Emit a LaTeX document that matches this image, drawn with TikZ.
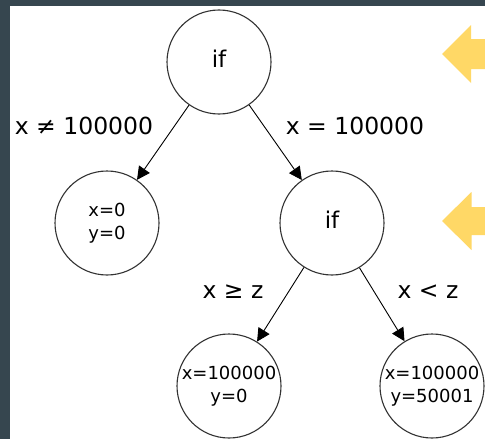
\documentclass[tikz,border=0pt]{standalone}
\usepackage{fontspec}
\setmainfont{DejaVu Sans}
\usetikzlibrary{arrows.meta}
\definecolor{slateband}{RGB}{54,70,79}
\definecolor{hintyellow}{RGB}{255,216,102}
\begin{document}
\begin{tikzpicture}[x=1pt,y=-1pt,
  decision/.style={circle,draw=black!80,line width=1.1pt,minimum size=104pt,
    inner sep=0pt,text depth=7pt,font=\fontsize{23}{27}\selectfont},
  leaf/.style={circle,draw=black!80,line width=1.1pt,minimum size=104pt,
    inner sep=0pt,align=center,font=\fontsize{18}{23}\selectfont},
  branch/.style={draw=black,line width=0.9pt,-{Triangle[length=13pt,width=13pt]}},
  cond/.style={font=\fontsize{23.5}{28}\selectfont,inner sep=0pt,anchor=base},
  pointer/.style={fill=hintyellow,draw=none}]
  \useasboundingbox (0,0) rectangle (485,439);
  \fill[white] (0,0) rectangle (485,439);
  % frame bands
  \fill[slateband] (0,0) rectangle (485,6);
  \fill[slateband] (0,0) rectangle (10,439);

  % tree
  \node[decision] (root) at (219,62) {if};
  \node[leaf] (left) at (107,223) {x=0\\y=0};
  \node[decision] (mid) at (332,223) {if};
  \node[leaf] (bl) at (229,386) {x=100000\\y=0};
  \node[leaf] (br) at (432,386) {x=100000\\y=50001};

  \draw[branch] (root) -- (left);
  \draw[branch] (root) -- (mid);
  \draw[branch] (mid) -- (bl);
  \draw[branch] (mid) -- (br);

  % branch conditions
  \node[cond] (c1) at (84,134.5) {x ≠ 100000};
  \node[cond] (c2) at (355,134.5) {x = 100000};
  \node[cond] (c3) at (233,298) {x ≥ z};
  \node[cond] (c4) at (428,298) {x < z};

  % pointers at the two decisions
  \fill[pointer] (442,54) -- (471,25) -- (471,39) -- (485,39) -- (485,69)
    -- (471,69) -- (471,83) -- cycle;
  \fill[pointer] (442,221) -- (471.5,192) -- (471.5,207) -- (485,207)
    -- (485,235) -- (471.5,235) -- (471.5,250) -- cycle;
\end{tikzpicture}
\end{document}
